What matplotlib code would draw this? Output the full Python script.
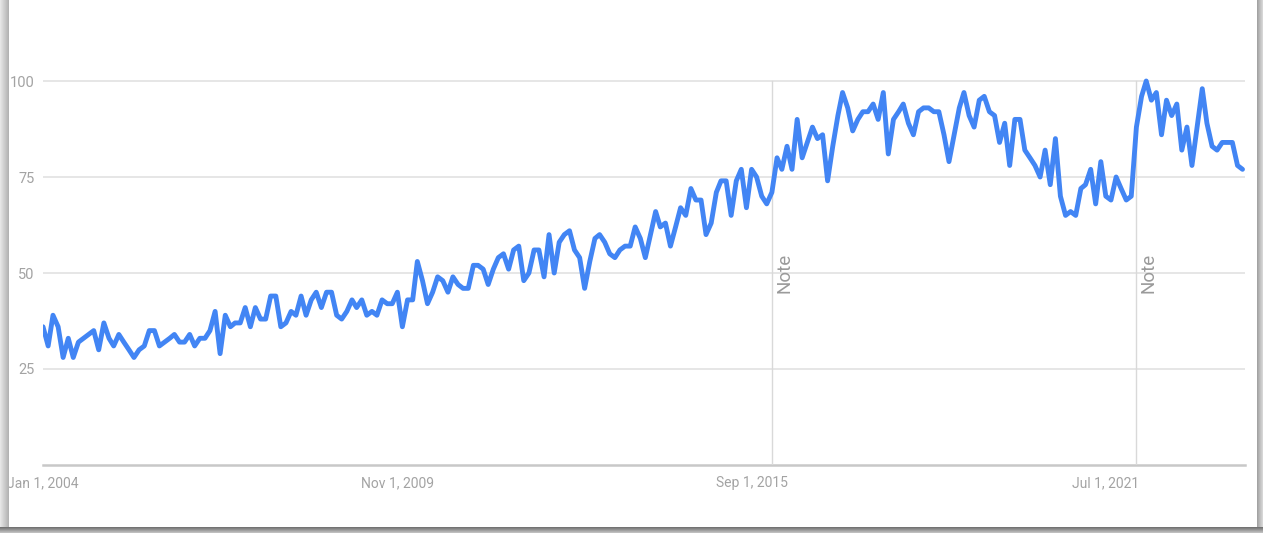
import matplotlib
matplotlib.use('Agg')
import matplotlib.pyplot as plt
from matplotlib.patches import Rectangle
import pandas as pd

# ---------------- data ----------------
start_month = '2004-01-01'
interest = [
    36, 31, 39, 36, 28, 33, 28, 32, 33, 34, 35, 30,
    37, 33, 31, 34, 32, 30, 28, 30, 31, 35, 35, 31,
    32, 33, 34, 32, 32, 34, 31, 33, 33, 35, 40, 29,
    39, 36, 37, 37, 41, 36, 41, 38, 38, 44, 44, 36,
    37, 40, 39, 44, 39, 43, 45, 41, 45, 45, 39, 38,
    40, 43, 41, 43, 39, 40, 39, 43, 42, 42, 45, 36,
    43, 43, 53, 48, 42, 45, 49, 48, 45, 49, 47, 46,
    46, 52, 52, 51, 47, 51, 54, 55, 51, 56, 57, 48,
    50, 56, 56, 49, 60, 50, 58, 60, 61, 56, 54, 46,
    53, 59, 60, 58, 55, 54, 56, 57, 57, 62, 59, 54,
    60, 66, 62, 63, 57, 62, 67, 65, 72, 69, 69, 60,
    63, 71, 74, 74, 65, 74, 77, 67, 77, 75, 70, 68,
    71, 80, 77, 83, 77, 90, 80, 84, 88, 85, 86, 74,
    83, 91, 97, 93, 87, 90, 92, 92, 94, 90, 97, 81,
    90, 92, 94, 89, 86, 92, 93, 93, 92, 92, 86, 79,
    86, 93, 97, 91, 88, 95, 96, 92, 91, 84, 89, 78,
    90, 90, 82, 80, 78, 75, 82, 73, 85, 70, 65, 66,
    65, 72, 73, 77, 68, 79, 70, 69, 75, 72, 69, 70,
    88, 96, 100, 95, 97, 86, 95, 91, 94, 82, 88, 78,
    88, 98, 89, 83, 82, 84, 84, 84, 78, 77,
]
tick_dates = ['2004-01-01', '2009-11-01', '2015-09-01', '2021-07-01']
tick_labels = ['Jan 1, 2004', 'Nov 1, 2009', 'Sep 1, 2015', 'Jul 1, 2021']
note_dates = ['2016-01-01', '2022-01-01']
y_ticks = [25, 50, 75, 100]
y_tick_labels = ['25', '50', '75', '100']

# ---------------- figure ----------------
W, H = 1263, 533
FONT = ['Roboto', 'DejaVu Sans']
plt.rcParams['font.family'] = FONT

fig = plt.figure(figsize=(W / 100, H / 100), dpi=100)
fig.patch.set_facecolor('white')


def px_rect(x0, y0, x1, y1, color):
    fig.patches.append(Rectangle((x0 / W, 1 - y1 / H), (x1 - x0) / W, (y1 - y0) / H,
                                 transform=fig.transFigure, facecolor=color,
                                 edgecolor='none', zorder=0))


# card shadow (left, right, bottom)
for i in range(9):
    g = 0.90 - 0.025 * i
    px_rect(i, 0, i + 1, H, (g, g, g))
for i in range(6):
    g = 0.64 + 0.04 * i
    px_rect(1257 + i, 0, 1258 + i, H, (g, g, g))
for i in range(6):
    g = 0.45 + 0.06 * i
    px_rect(0, 527 + i, W, 528 + i, (g, g, g))

ax = fig.add_axes([43 / W, (H - 465) / H, (1245 - 43) / W, (465 - 42.6) / H])
ax.set_facecolor('none')

dates = pd.date_range(start_month, periods=len(interest), freq='MS')
YMAX = 110

for y in y_ticks:
    ax.axhline(y, color='#e4e4e4', lw=1.3, zorder=0)
ax.axhline(0, color='#c8c8c8', lw=1.8, zorder=1, clip_on=False)

for d in note_dates:
    ax.axvline(pd.Timestamp(d), ymin=0, ymax=100 / YMAX, color='#d9d9d9', lw=1.0, zorder=1)
    ax.annotate('Note', xy=(pd.Timestamp(d), 50), xytext=(2.5, 0),
                textcoords='offset points', rotation=90, ha='left', va='center',
                color='#9a9a9a', fontsize=13.5, family=FONT)

ax.plot(dates, interest, color='#4285F4', lw=3.5, solid_joinstyle='round',
        solid_capstyle='round', zorder=3)

ax.set_xlim(pd.Timestamp('2004-01-01'), pd.Timestamp('2023-10-16'))
ax.set_ylim(0, YMAX)

ax.set_xticks([pd.Timestamp(d) for d in tick_dates])
ax.set_xticklabels(tick_labels)
ax.set_yticks(y_ticks)
ax.set_yticklabels(y_tick_labels)
ax.tick_params(axis='x', length=0, pad=8, labelsize=10, labelcolor='#a3a3a3')
ax.tick_params(axis='y', length=0, pad=6, labelsize=10.5, labelcolor='#a3a3a3')
for s in ax.spines.values():
    s.set_visible(False)

fig.savefig('out.png', dpi=100, facecolor=fig.get_facecolor())
